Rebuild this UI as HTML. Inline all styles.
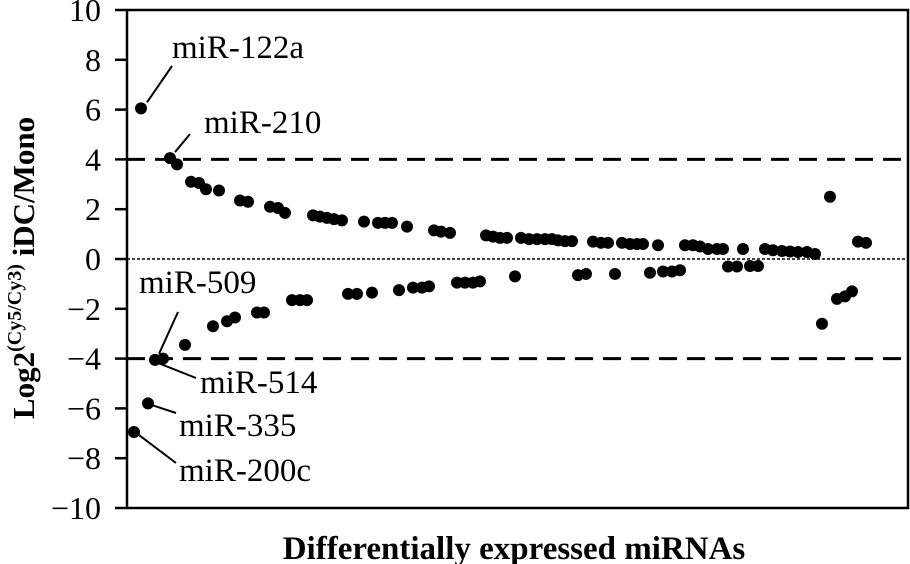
<!DOCTYPE html>
<html><head><meta charset="utf-8"><style>
html,body{margin:0;padding:0;background:#fff;}
svg{display:block;font-family:"Liberation Serif",serif;}
</style></head><body>
<svg id="chart" width="910" height="564" viewBox="0 0 910 564" xmlns="http://www.w3.org/2000/svg">
<g id="axes"></g>
<g id="refs"></g>
<g id="points"></g>
<g id="annos"></g>
<text x="514" y="559" text-anchor="middle" font-size="33" font-weight="bold">Differentially expressed miRNAs</text>
<text transform="translate(34,268) rotate(-90)" text-anchor="middle" font-size="31" font-weight="bold">Log2<tspan font-size="20" dy="-13">(Cy5/Cy3)</tspan><tspan dy="13"> iDC/Mono</tspan></text>
</svg>
<script>
const yTicks = [10, 8, 6, 4, 2, 0, -2, -4, -6, -8, -10];
const yTickLabels = ["10", "8", "6", "4", "2", "0", "\u22122", "\u22124", "\u22126", "\u22128", "\u221210"];
const refValues = [4, -4];
const upRanks = [2.8,8.6,10,12.8,14.4,15.8,18.4,22.6,24.2,28.6,30.2,31.6,37.2,38.6,40,41.4,43,47.4,50.2,51.6,53,56,61.4,62.8,64.6,71.8,73.2,74.6,76,78.8,80.4,82,83.6,85,86.2,87.6,89,93.2,94.8,96.2,99,100.6,102,103.2,106.2,111.6,113.2,114.6,116.2,118,119.2,123.2,127.6,129.2,131,132.6,134.2,136,137.6,140.6,146.2,147.8];
const upValues = [6.05,4.05,3.8,3.1,3.05,2.8,2.75,2.35,2.3,2.1,2.05,1.85,1.75,1.7,1.65,1.6,1.55,1.5,1.45,1.45,1.45,1.3,1.15,1.1,1.05,0.95,0.9,0.85,0.85,0.85,0.8,0.8,0.8,0.8,0.75,0.72,0.72,0.7,0.65,0.65,0.65,0.6,0.6,0.6,0.55,0.55,0.55,0.5,0.4,0.4,0.4,0.4,0.4,0.35,0.32,0.3,0.28,0.28,0.2,2.5,0.7,0.65];
const downRanks = [1.4,4.2,5.6,7.2,11.6,17.2,20,21.6,26,27.4,33,34.6,36,44.2,46,49,54.4,57.2,59,60.4,66,67.6,69.2,70.6,77.6,90.2,91.8,97.6,104.6,107.2,109,110.6,120.2,122,124.6,126.2,139,142,143.6,145];
const downValues = [-6.95,-5.8,-4.05,-4.0,-3.45,-2.7,-2.5,-2.35,-2.15,-2.15,-1.65,-1.65,-1.65,-1.4,-1.4,-1.35,-1.25,-1.15,-1.15,-1.1,-0.95,-0.95,-0.95,-0.9,-0.7,-0.65,-0.6,-0.6,-0.55,-0.5,-0.5,-0.45,-0.3,-0.3,-0.28,-0.28,-2.6,-1.6,-1.5,-1.3];
const annoNames = ["miR-122a","miR-210","miR-509","miR-514","miR-335","miR-200c"];
const annoRanks = [2.8,8.6,5.6,7.2,4.2,1.4];
const annoValues = [6.05,4.05,-4.05,-4.0,-5.8,-6.95];

const NS="http://www.w3.org/2000/svg";
const L=127,R=908,T=10,B=508;
function yS(v){return T+(10-v)/20*(B-T);}
function xS(r){return L+r*5;}
function mk(tag,attrs,parent,txt){const e=document.createElementNS(NS,tag);for(const k in attrs)e.setAttribute(k,attrs[k]);if(txt!==undefined)e.textContent=txt;parent.appendChild(e);return e;}
const axes=document.getElementById('axes');
const frame=mk('rect',{x:L,y:T,width:R-L,height:B-T,fill:'none',stroke:'#000','stroke-width':2.5},axes);


yTicks.forEach((v,i)=>{
  const t=mk('line',{x1:L-12,x2:L,y1:yS(v),y2:yS(v),stroke:'#000','stroke-width':2.5},axes);
  
  
  const lb=mk('text',{x:101,y:yS(v)+11,'text-anchor':'end','font-size':32},axes,yTickLabels[i]);
  
  
});
const refs=document.getElementById('refs');
const z=mk('line',{x1:L,x2:R,y1:yS(0),y2:yS(0),stroke:'#000','stroke-width':1.5,'stroke-dasharray':'3 2'},refs);


refValues.forEach(v=>{
  const d=mk('line',{x1:L,x2:R,y1:yS(v),y2:yS(v),stroke:'#000','stroke-width':3,'stroke-dasharray':'18 10'},refs);
  
  
});
const pts=document.getElementById('points');
upRanks.forEach((r,i)=>{
  const c=mk('circle',{cx:xS(r),cy:yS(upValues[i]),r:6,fill:'#000'},pts);
  
  
});
downRanks.forEach((r,i)=>{
  const c=mk('circle',{cx:xS(r),cy:yS(downValues[i]),r:6,fill:'#000'},pts);
  
  
});
const lay=[
  {tx:172,ty:58,lx1:6,ly1:-6,lx2:172,ly2:66},
  {tx:204,ty:133,lx1:5,ly1:-6,lx2:190,ly2:134},
  {tx:139,ty:293,lx1:4,ly1:-6,lx2:178,ly2:312},
  {tx:200,ty:393,lx1:-6,ly1:4,lx2:196,ly2:378},
  {tx:179,ty:436,lx1:5,ly1:2,lx2:176,ly2:413},
  {tx:179,ty:481,lx1:5,ly1:3,lx2:176,ly2:463}
];
const an=document.getElementById('annos');
annoNames.forEach((n,i)=>{
  const x=xS(annoRanks[i]),y=yS(annoValues[i]),o=lay[i];
  const ln=mk('line',{x1:x+o.lx1,y1:y+o.ly1,x2:o.lx2,y2:o.ly2,stroke:'#000','stroke-width':2},an);
  
  
  const t=mk('text',{x:o.tx,y:o.ty,'font-size':33},an,n);
  
  
});
</script>
</body></html>
